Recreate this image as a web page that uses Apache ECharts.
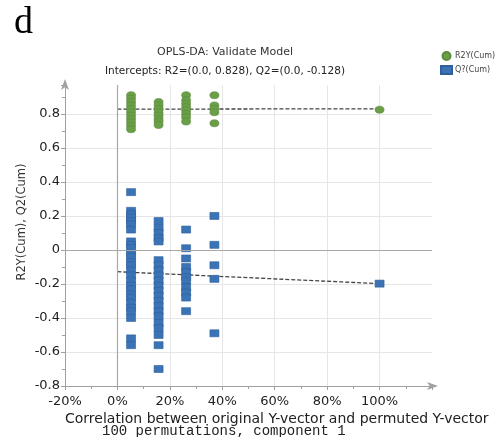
<!DOCTYPE html>
<html>
<head>
<meta charset="utf-8">
<script src="https://cdn.jsdelivr.net/npm/echarts@6/dist/echarts.min.js"></script>
<style>
  html, body { margin: 0; padding: 0; background: #fff; }
  #main { width: 496px; height: 437px; }
</style>
</head>
<body>
<div id="main"></div>
<script>
// permutation groups: correlation (%) of permuted Y with original Y
const groupX = [5.2, 15.7, 26.2, 37, 100]

// R2Y(Cum) per group
const r2Values = [
  [0.91, 0.89, 0.87, 0.85, 0.83, 0.81, 0.79, 0.77, 0.75, 0.73, 0.71],
  [0.87, 0.85, 0.83, 0.81, 0.79, 0.77, 0.755, 0.735],
  [0.91, 0.88, 0.86, 0.84, 0.82, 0.80, 0.78, 0.755],
  [0.91, 0.85, 0.83, 0.81, 0.745],
  [0.825]
]

// Q2(Cum) per group
const q2Values = [
  [0.34, 0.23, 0.21, 0.19, 0.17, 0.15, 0.12, 0.05, 0.03, 0.01, -0.02, -0.04, -0.07, -0.09,
   -0.12, -0.15, -0.18, -0.21, -0.23, -0.26, -0.28, -0.31, -0.34, -0.36, -0.40, -0.52, -0.56],
  [0.17, 0.13, 0.10, 0.07, 0.05, -0.06, -0.09, -0.12, -0.15, -0.18, -0.21, -0.24, -0.27,
   -0.30, -0.33, -0.36, -0.39, -0.43, -0.46, -0.50, -0.56, -0.70],
  [0.12, 0.01, -0.05, -0.10, -0.13, -0.16, -0.18, -0.22, -0.25, -0.28, -0.36],
  [0.20, 0.03, -0.09, -0.17, -0.49],
  [-0.198]
]

// regression lines: [x, y] at 0 % and 100 %
const r2Line = [[0, 0.828], [100, 0.83]]
const q2Line = [[0, -0.128], [100, -0.198]]

const xTicks = [-20, 0, 20, 40, 60, 80, 100]

function toPoints(vals) {
  let pts = []
  vals.forEach((list, i) => list.forEach(v => pts.push([groupX[i], v])))
  return pts
}

const chart = echarts.init(document.getElementById('main'))

const option = {
  backgroundColor: '#fff',
  animation: false,
  textStyle: { fontFamily: 'DejaVu Sans' },
  title: [
    {
      text: 'd', left: 14, top: 4, padding: 0,
      textStyle: { fontFamily: 'Liberation Serif', fontSize: 38, fontWeight: 'normal', color: '#000' }
    },
    {
      text: 'OPLS-DA: Validate Model',
      subtext: 'Intercepts: R2=(0.0, 0.828), Q2=(0.0, -0.128)',
      left: 225, top: 47, padding: 0, itemGap: 8, textAlign: 'center',
      textStyle: { fontSize: 11, fontWeight: 'normal', color: '#333' },
      subtextStyle: { fontSize: 10.5, color: '#222' }
    },
    {
      text: 'Correlation between original Y-vector and permuted Y-vector',
      left: 65, top: 412, padding: 0,
      textStyle: { fontSize: 14, fontWeight: 'normal', color: '#222' }
    },
    {
      text: '100 permutations, component 1',
      left: 102, top: 424, padding: 0,
      textStyle: { fontFamily: 'Liberation Mono', fontSize: 14, fontWeight: 'normal', color: '#222' }
    }
  ],
  graphic: [
    {
      type: 'text', x: 22, y: 222, rotation: Math.PI / 2,
      style: {
        text: 'R2Y(Cum), Q2(Cum)', fontFamily: 'DejaVu Sans', fontSize: 11.5,
        fill: '#333', align: 'center', verticalAlign: 'middle'
      }
    }
  ],
  legend: {
    orient: 'vertical', left: 440, top: 51, padding: 0,
    itemWidth: 11, itemHeight: 8, itemGap: 4,
    textStyle: { fontSize: 8, color: '#444', padding: [0, 0, 0, -2] },
    data: [
      { name: 'R2Y(Cum)', icon: 'circle' },
      { name: 'Q?(Cum)', icon: 'rect' }
    ]
  },
  grid: { left: 65, right: 64, top: 85, bottom: 51 },
  xAxis: {
    type: 'value', min: -20, max: 120, interval: 20,
    axisLine: { onZero: false, symbol: ['none', 'arrow'], symbolSize: [6, 11], symbolOffset: [0, 6], lineStyle: { color: '#a0a0a0' } },
    axisTick: { length: 4, lineStyle: { color: '#a0a0a0' } },
    minorTick: { show: true, splitNumber: 2, length: 3, lineStyle: { color: '#a0a0a0' } },
    axisLabel: {
      fontSize: 13, color: '#222', margin: 9, showMaxLabel: false,
      formatter: v => xTicks.indexOf(v) >= 0 ? v + '%' : ''
    },
    splitLine: { show: true, showMinLine: false, showMaxLine: false, lineStyle: { color: '#e6e6e6' } }
  },
  yAxis: {
    type: 'value', min: -0.8, max: 0.97, interval: 0.2,
    axisLine: { onZero: false, symbol: ['none', 'arrow'], symbolSize: [6, 11], symbolOffset: [0, 6], lineStyle: { color: '#a0a0a0' } },
    axisTick: { length: 4, lineStyle: { color: '#a0a0a0' } },
    minorTick: { show: true, splitNumber: 2, length: 3, lineStyle: { color: '#a0a0a0' } },
    axisLabel: {
      fontSize: 13, color: '#222', margin: 5, showMaxLabel: false,
      formatter: v => {
        let r = Math.round(v * 10) / 10
        return r === 0 ? '0' : r.toFixed(1)
      }
    },
    splitLine: { show: true, showMinLine: false, showMaxLine: false, lineStyle: { color: '#e6e6e6' } }
  },
  series: [
    {
      name: 'zero lines',
      type: 'line',
      data: [],
      silent: true,
      markLine: {
        silent: true,
        symbol: 'none',
        label: { show: false },
        lineStyle: { type: 'solid', color: '#a8a8a8', width: 1.2 },
        data: [{ xAxis: 0 }, { yAxis: 0 }]
      }
    },
    {
      name: 'R2 fit',
      type: 'line',
      data: r2Line,
      symbol: 'none',
      silent: true,
      z: 1,
      lineStyle: { color: '#444', width: 1.3, type: [4, 2] }
    },
    {
      name: 'Q2 fit',
      type: 'line',
      data: q2Line,
      symbol: 'none',
      silent: true,
      z: 1,
      lineStyle: { color: '#444', width: 1.3, type: [4, 2] }
    },
    {
      name: 'R2Y(Cum)',
      type: 'scatter',
      data: toPoints(r2Values),
      symbol: 'circle',
      symbolSize: [9, 7],
      z: 3,
      itemStyle: { color: '#6a9f48', borderColor: '#5a8b3c', borderWidth: 0.6, opacity: 1 }
    },
    {
      name: 'Q?(Cum)',
      type: 'scatter',
      data: toPoints(q2Values),
      symbol: 'rect',
      symbolSize: [9, 7],
      z: 3,
      itemStyle: { color: '#3b74b6', borderColor: '#2e5f98', borderWidth: 0.6, opacity: 1 }
    }
  ]
}

chart.setOption(option)
</script>
</body>
</html>
